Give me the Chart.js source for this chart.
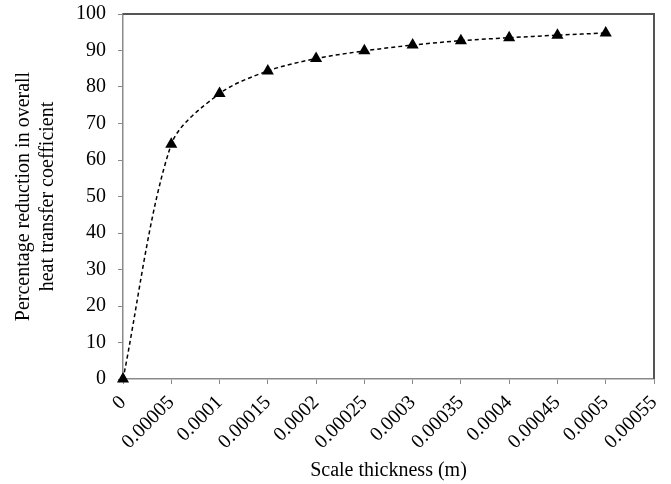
<!DOCTYPE html>
<html>
<head>
<meta charset="utf-8">
<script src="https://cdn.jsdelivr.net/npm/chart.js@4"></script>
<style>
  html, body { margin: 0; padding: 0; background: #fff; }
  #wrap { width: 671px; height: 484px; }
</style>
</head>
<body>
<div id="wrap"><canvas id="chart"></canvas></div>
<script>
// scale thickness (m) and reduction in U (%)
const thickness = [0, 0.00005, 0.0001, 0.00015, 0.0002, 0.00025, 0.0003, 0.00035, 0.0004, 0.00045, 0.0005];
const reduction = [0, 64.3, 78.2, 84.4, 87.8, 89.9, 91.5, 92.7, 93.5, 94.2, 94.8];
const xTickLabels = ['0', '0.00005', '0.0001', '0.00015', '0.0002', '0.00025', '0.0003',
    '0.00035', '0.0004', '0.00045', '0.0005', '0.00055'];
const yTitle = ['Percentage reduction in overall', 'heat transfer coefficient'];
const xTitle = 'Scale thickness (m)';

const serif = "'Liberation Serif', 'Times New Roman', serif";
const axisGray = '#8a8a8a';

// top and right edges of the plot frame
const frame = {
    id: 'frame',
    afterDraw(chart) {
        const { ctx, chartArea: a } = chart;
        ctx.save();
        ctx.strokeStyle = '#555';
        ctx.lineWidth = 2;
        ctx.beginPath();
        ctx.moveTo(a.left, a.top);
        ctx.lineTo(a.right, a.top);
        ctx.lineTo(a.right, a.bottom);
        ctx.stroke();
        ctx.restore();
    }
};

const points = thickness.map((x, i) => ({ x: x, y: reduction[i] }));

new Chart(document.getElementById('chart').getContext('2d'), {
    type: 'line',
    data: {
        datasets: [{
            data: points,
            borderColor: '#000',
            borderWidth: 1.5,
            borderDash: [4, 3],
            tension: 0.3,
            clip: false,
            pointStyle: 'triangle',
            pointRadius: 7,
            pointBackgroundColor: '#000',
            pointBorderColor: '#000',
            pointBorderWidth: 0,
            fill: false
        }]
    },
    plugins: [frame],
    options: {
        responsive: true,
        maintainAspectRatio: false,
        animation: false,
        layout: { padding: { top: 14, right: 17, left: 0, bottom: 0 } },
        plugins: {
            legend: { display: false },
            tooltip: { enabled: false }
        },
        scales: {
            x: {
                type: 'linear',
                min: 0,
                max: 0.00055,
                afterBuildTicks: s => {
                    s.ticks = xTickLabels.map((t, i) => ({ value: i * 0.00005 }));
                },
                afterFit: s => {
                    s.height = 105;
                    s.paddingLeft = 0;
                    s.paddingRight = 0;
                },
                grid: {
                    drawOnChartArea: false,
                    drawTicks: true,
                    tickLength: 5,
                    color: axisGray
                },
                border: { color: axisGray, width: 1.5 },
                ticks: {
                    autoSkip: false,
                    minRotation: 45,
                    maxRotation: 45,
                    padding: 7,
                    color: '#000',
                    font: { family: serif, size: 20 },
                    callback: (v, i) => xTickLabels[i]
                },
                title: {
                    display: true,
                    text: xTitle,
                    color: '#000',
                    font: { family: serif, size: 20 },
                    padding: { top: 0, bottom: 1 }
                }
            },
            y: {
                min: 0,
                max: 100,
                afterFit: s => {
                    s.width = 123;
                    s.paddingTop = 0;
                    s.paddingBottom = 0;
                },
                grid: {
                    drawOnChartArea: false,
                    drawTicks: true,
                    tickLength: 5,
                    color: axisGray
                },
                border: { color: axisGray, width: 1.5 },
                ticks: {
                    stepSize: 10,
                    padding: 12,
                    color: '#000',
                    font: { family: serif, size: 20 }
                },
                title: {
                    display: true,
                    text: yTitle,
                    color: '#000',
                    font: { family: serif, size: 20, lineHeight: 1.2 },
                    padding: { top: 12, bottom: 0 }
                }
            }
        }
    }
});
</script>
</body>
</html>
